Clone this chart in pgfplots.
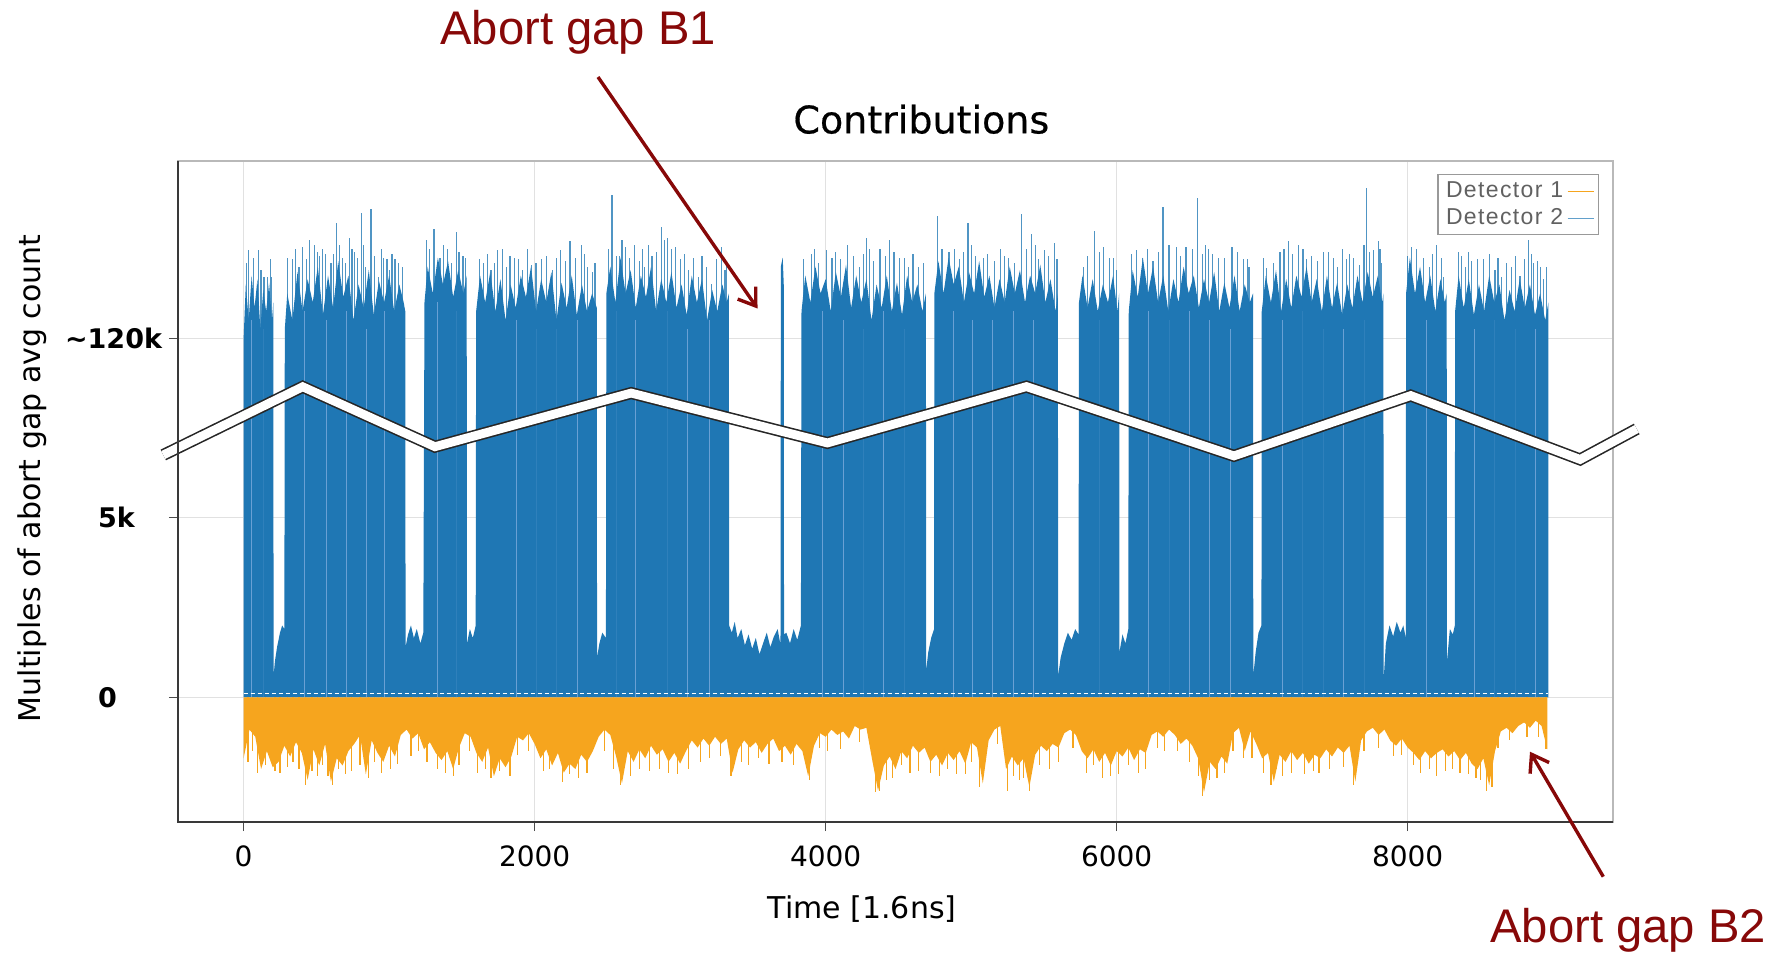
\documentclass[border=0pt]{standalone}
\usepackage{fontspec}
\setmainfont{DejaVu Sans}
\newfontfamily\titlefont[FakeBold=0.5]{DejaVu Sans}
\newfontfamily\arial{Liberation Sans}
\newfontfamily\legfont[LetterSpace=6]{Liberation Sans}
\usepackage{pgfplots}
\usepackage{pgfplotstable}
\pgfplotsset{compat=1.18}
\usetikzlibrary{arrows.meta}
\definecolor{bl}{RGB}{31,119,180}
\definecolor{lbl}{RGB}{105,160,212}
\definecolor{orr}{RGB}{246,165,30}
\definecolor{dred}{RGB}{135,8,8}
\definecolor{gridc}{RGB}{225,225,225}

% Detector 1 (orange), sampled every 40 time units from 0 to 8960
\pgfplotstableread[row sep=\\]{
y\\
-0.34\\-0.18\\-0.22\\-0.40\\-0.30\\-0.39\\-0.36\\-0.27\\-0.33\\-0.25\\
-0.31\\-0.46\\-0.29\\-0.38\\-0.26\\-0.47\\-0.34\\-0.38\\-0.30\\-0.26\\
-0.21\\-0.43\\-0.24\\-0.31\\-0.36\\-0.27\\-0.33\\-0.21\\-0.18\\-0.23\\
-0.20\\-0.29\\-0.25\\-0.31\\-0.35\\-0.30\\-0.40\\-0.28\\-0.20\\-0.22\\
-0.31\\-0.36\\-0.28\\-0.44\\-0.34\\-0.39\\-0.33\\-0.22\\-0.24\\-0.20\\
-0.26\\-0.34\\-0.29\\-0.38\\-0.31\\-0.42\\-0.37\\-0.40\\-0.32\\-0.36\\
-0.30\\-0.22\\-0.18\\-0.21\\-0.33\\-0.48\\-0.30\\-0.36\\-0.29\\-0.34\\
-0.27\\-0.32\\-0.29\\-0.36\\-0.31\\-0.37\\-0.30\\-0.24\\-0.28\\-0.23\\
-0.27\\-0.22\\-0.26\\-0.23\\-0.42\\-0.29\\-0.24\\-0.28\\-0.25\\-0.31\\
-0.26\\-0.23\\-0.30\\-0.27\\-0.32\\-0.26\\-0.30\\-0.44\\-0.27\\-0.20\\
-0.22\\-0.18\\-0.21\\-0.19\\-0.23\\-0.16\\-0.18\\-0.17\\-0.35\\-0.52\\
-0.38\\-0.33\\-0.40\\-0.30\\-0.34\\-0.27\\-0.31\\-0.28\\-0.36\\-0.32\\
-0.38\\-0.31\\-0.35\\-0.30\\-0.37\\-0.25\\-0.28\\-0.48\\-0.24\\-0.18\\
-0.16\\-0.40\\-0.33\\-0.38\\-0.34\\-0.50\\-0.32\\-0.27\\-0.30\\-0.26\\
-0.28\\-0.20\\-0.18\\-0.21\\-0.30\\-0.34\\-0.29\\-0.36\\-0.31\\-0.38\\
-0.30\\-0.33\\-0.28\\-0.35\\-0.29\\-0.31\\-0.21\\-0.19\\-0.22\\-0.18\\
-0.21\\-0.26\\-0.23\\-0.27\\-0.34\\-0.53\\-0.36\\-0.40\\-0.33\\-0.37\\
-0.20\\-0.17\\-0.30\\-0.19\\-0.26\\-0.34\\-0.31\\-0.47\\-0.32\\-0.36\\
-0.30\\-0.35\\-0.31\\-0.37\\-0.32\\-0.34\\-0.29\\-0.33\\-0.28\\-0.31\\
-0.27\\-0.47\\-0.24\\-0.19\\-0.17\\-0.21\\-0.18\\-0.24\\-0.27\\-0.23\\
-0.28\\-0.31\\-0.35\\-0.30\\-0.34\\-0.31\\-0.29\\-0.33\\-0.30\\-0.35\\
-0.31\\-0.37\\-0.40\\-0.34\\-0.49\\-0.30\\-0.19\\-0.17\\-0.20\\-0.16\\
-0.14\\-0.17\\-0.13\\-0.16\\-0.29\\
}\orangetab

\begin{document}
\begin{tikzpicture}
\useasboundingbox (-89pt,-66.5pt) rectangle (800.5pt,411pt);
\begin{axis}[
  at={(0,0)}, anchor=south west,
  scale only axis, width=717.5pt, height=330.5pt,
  xmin=-451, xmax=9411, ymin=-0.695, ymax=2.988,
  clip=false,
  axis line style={draw=gray!55, line width=0.7pt},
  xtick={0,2000,4000,6000,8000},
  xticklabels={0,2000,4000,6000,8000},
  ytick={0,1,2},
  yticklabels={{0},{5k},{\hspace*{-16.5pt}\textasciitilde120k}},
  grid=major,
  major grid style={draw=gridc, line width=0.6pt},
  tick pos=left, tick align=outside, major tick length=4.5pt,
  tick style={draw=gray!60!black, line width=0.6pt},
  xticklabel style={anchor=base, yshift=-17.8pt, font=\fontsize{14}{16}\selectfont},
  yticklabel style={anchor=west, xshift=-39pt, font=\bfseries\fontsize{13.5}{15}\selectfont},
  title={Contributions},
  title style={at={(axis description cs:0.518,1)}, anchor=base, yshift=7.8pt, font=\titlefont\fontsize{19}{21}\selectfont},
  xlabel={Time [1.6ns]},
  xlabel style={at={(axis description cs:0.4767,0)}, anchor=base, yshift=-48pt, font=\fontsize{15}{17}\selectfont},
  ylabel={Multiples of abort gap avg count},
  ylabel style={at={(axis description cs:-0.1017,0.52)}, anchor=center, font=\fontsize{15}{17}\selectfont},
  legend style={at={(0.9902,0.980)}, anchor=north east, draw=gray!80, line width=0.6pt,
    font=\legfont\fontsize{11.5}{13}\selectfont, text=black!62, fill=white,
    inner xsep=2pt, inner ysep=1.5pt, row sep=0pt},
  legend plot pos=right, legend cell align=left,
  legend image code/.code={\draw[#1] (0pt,0pt) -- (13pt,0pt);},
]
% Detector 2 (blue) envelope
\addplot[draw=none, fill=bl, forget plot] coordinates {
(0,2.0)(15,2.3)(35,2.1)(55,2.35)(75,2.17)(95,2.33)(115,2.05)(135,2.27)(155,2.15)(175,2.31)(195,2.1)(204,2.2)
(206,0.12)(215,0.20)(230,0.28)(250,0.36)(265,0.40)(280,0.38)
(283,2.05)(300,2.25)(335,2.1)(370,2.37)(405,2.15)(440,2.33)(475,2.2)(510,2.4)(545,2.13)(580,2.35)(615,2.17)(650,2.43)(685,2.23)(720,2.35)(755,2.1)(790,2.3)(825,2.17)(860,2.38)(895,2.13)(930,2.32)(965,2.2)(1000,2.35)(1035,2.15)(1070,2.3)(1100,2.2)(1111,2.15)
(1113,0.28)(1130,0.35)(1150,0.40)(1170,0.33)(1190,0.38)(1215,0.30)(1235,0.36)
(1243,2.2)(1265,2.4)(1300,2.25)(1335,2.45)(1370,2.3)(1405,2.43)(1440,2.23)(1475,2.38)(1510,2.25)(1533,2.35)
(1535,0.30)(1555,0.38)(1575,0.33)(1595,0.40)
(1598,2.15)(1625,2.35)(1660,2.2)(1695,2.37)(1730,2.15)(1765,2.33)(1800,2.1)(1835,2.3)(1870,2.17)(1905,2.35)(1940,2.23)(1975,2.4)(2010,2.15)(2045,2.33)(2080,2.2)(2115,2.37)(2150,2.1)(2185,2.31)(2220,2.17)(2255,2.35)(2290,2.13)(2325,2.3)(2360,2.15)(2395,2.25)(2427,2.17)
(2429,0.22)(2445,0.30)(2465,0.36)(2490,0.33)
(2493,2.25)(2520,2.4)(2555,2.2)(2590,2.45)(2625,2.25)(2660,2.38)(2695,2.17)(2730,2.35)(2765,2.23)(2800,2.4)(2835,2.15)(2870,2.33)(2905,2.2)(2940,2.37)(2975,2.17)(3010,2.3)(3045,2.13)(3080,2.35)(3115,2.2)(3150,2.33)(3185,2.1)(3220,2.27)(3255,2.15)(3290,2.3)(3320,2.2)(3335,2.25)
(3337,0.40)(3355,0.36)(3375,0.42)(3395,0.33)(3420,0.38)(3445,0.29)(3470,0.35)(3495,0.27)(3520,0.33)(3545,0.24)(3570,0.30)(3595,0.36)(3620,0.28)(3645,0.34)(3670,0.38)(3688,0.30)
(3690,0.35)(3692,2.4)(3705,2.45)(3712,2.3)(3714,0.35)
(3730,0.36)(3755,0.30)(3780,0.38)(3805,0.32)(3830,0.40)
(3834,2.15)(3860,2.35)(3895,2.2)(3930,2.4)(3965,2.25)(4000,2.33)(4035,2.15)(4070,2.37)(4105,2.23)(4140,2.41)(4175,2.17)(4210,2.35)(4245,2.2)(4280,2.33)(4315,2.1)(4350,2.3)(4385,2.17)(4420,2.35)(4455,2.15)(4490,2.31)(4525,2.13)(4560,2.35)(4595,2.2)(4630,2.3)(4665,2.15)(4689,2.25)
(4691,0.15)(4705,0.25)(4725,0.33)(4745,0.38)
(4747,2.25)(4775,2.43)(4810,2.25)(4845,2.45)(4880,2.3)(4915,2.4)(4950,2.2)(4985,2.37)(5020,2.25)(5055,2.43)(5090,2.23)(5125,2.35)(5160,2.17)(5195,2.33)(5230,2.2)(5265,2.4)(5300,2.25)(5335,2.38)(5370,2.2)(5405,2.35)(5440,2.25)(5475,2.41)(5510,2.2)(5545,2.33)(5580,2.15)(5596,2.25)
(5598,0.12)(5615,0.22)(5640,0.30)(5665,0.36)(5690,0.32)(5715,0.38)(5738,0.35)
(5741,2.2)(5765,2.35)(5800,2.17)(5835,2.33)(5870,2.15)(5905,2.3)(5940,2.2)(5975,2.35)(6005,2.15)(6017,2.25)
(6019,0.25)(6040,0.35)(6060,0.30)(6080,0.38)
(6083,2.15)(6110,2.38)(6145,2.23)(6180,2.45)(6215,2.25)(6250,2.4)(6285,2.2)(6320,2.35)(6355,2.15)(6390,2.33)(6425,2.2)(6460,2.4)(6495,2.25)(6530,2.35)(6565,2.17)(6600,2.33)(6635,2.2)(6670,2.37)(6705,2.15)(6740,2.31)(6775,2.17)(6810,2.35)(6845,2.15)(6880,2.3)(6915,2.2)(6937,2.25)
(6939,0.12)(6955,0.25)(6975,0.36)(6995,0.40)
(6997,2.15)(7025,2.35)(7060,2.2)(7095,2.38)(7130,2.15)(7165,2.33)(7200,2.17)(7235,2.35)(7270,2.23)(7305,2.4)(7340,2.2)(7375,2.33)(7410,2.15)(7445,2.35)(7480,2.17)(7515,2.31)(7550,2.13)(7585,2.3)(7620,2.17)(7655,2.35)(7690,2.2)(7725,2.37)(7760,2.23)(7795,2.35)(7825,2.2)(7833,2.25)
(7835,0.10)(7850,0.30)(7875,0.40)(7900,0.34)(7925,0.42)(7950,0.36)(7970,0.40)(7987,0.33)
(7989,2.25)(8015,2.45)(8050,2.25)(8085,2.4)(8120,2.2)(8155,2.35)(8190,2.15)(8225,2.33)(8255,2.2)(8268,2.25)
(8270,0.20)(8290,0.38)(8310,0.35)(8324,0.40)
(8326,2.15)(8350,2.35)(8385,2.17)(8420,2.33)(8455,2.13)(8490,2.3)(8525,2.15)(8560,2.35)(8595,2.2)(8630,2.3)(8665,2.1)(8700,2.27)(8735,2.15)(8770,2.33)(8805,2.17)(8840,2.3)(8875,2.13)(8910,2.25)(8945,2.1)(8967,2.2)
} \closedcycle;
% lighter sub-batch separations
\addplot[ycomb, draw=lbl, line width=0.5pt, forget plot] coordinates {
(56,2.1)(136,2.05)(421,2.15)(570,2.1)(708,2.15)(845,2.05)(971,2.15)(1330,2.2)(1460,2.15)
(1874,2.1)(2010,2.05)(2150,2.05)(2295,2.1)(2560,2.15)(2690,2.1)(2914,2.15)(3050,2.05)(3203,2.1)
(3980,2.15)(4120,2.1)(4260,2.05)(4400,2.15)(4540,2.05)(4880,2.15)(5010,2.1)(5150,2.1)(5290,2.15)(5430,2.1)
(5880,2.1)(6220,2.15)(6360,2.1)(6500,2.15)(6640,2.1)(6780,2.05)(7140,2.1)(7280,2.15)(7420,2.05)(7560,2.05)(7700,2.1)
(8130,2.1)(8460,2.05)(8600,2.1)(8740,2.05)(8880,2.05)
};
% Detector 2 spikes
\addplot[ycomb, draw=bl, draw opacity=0.78, line width=0.6pt, forget plot] coordinates {
(34,2.49)(100,2.49)(140,2.34)(165,2.34)(192,2.34)
(336,2.44)(380,2.40)(402,2.51)(488,2.52)(520,2.46)(560,2.47)(600,2.42)(638,2.64)(680,2.45)(730,2.56)(760,2.48)(809,2.70)(840,2.40)(875,2.72)(928,2.34)(960,2.45)(1000,2.38)(1040,2.44)(1067,2.42)
(1256,2.55)(1309,2.61)(1350,2.45)(1401,2.50)(1430,2.42)(1462,2.59)(1507,2.46)
(1651,2.42)(1700,2.38)(1744,2.49)(1809,2.40)(1860,2.45)(1914,2.38)(1980,2.41)(2045,2.44)(2124,2.38)(2177,2.49)(2243,2.54)(2280,2.45)(2322,2.52)(2362,2.40)(2400,2.37)
(2532,2.80)(2584,2.46)(2623,2.51)(2650,2.45)(2689,2.52)(2720,2.43)(2755,2.40)(2807,2.46)(2874,2.62)(2913,2.56)(2966,2.51)(3000,2.44)(3058,2.38)(3124,2.34)(3180,2.40)(3216,2.30)(3282,2.51)(3308,2.38)
(3900,2.47)(3950,2.42)(4005,2.49)(4044,2.45)(4100,2.44)(4189,2.46)(4230,2.40)(4281,2.56)(4330,2.43)(4373,2.50)(4439,2.55)(4505,2.45)(4570,2.40)(4636,2.40)
(4768,2.68)(4847,2.48)(4886,2.50)(4920,2.44)(4978,2.64)(5030,2.46)(5083,2.45)(5162,2.43)(5254,2.45)(5300,2.42)(5346,2.69)(5412,2.58)(5460,2.44)(5504,2.49)(5570,2.53)
(5770,2.40)(5846,2.60)(5912,2.51)(5977,2.45)(6000,2.38)
(6135,2.49)(6180,2.45)(6250,2.43)(6319,2.73)(6411,2.51)(6477,2.51)(6556,2.78)(6609,2.52)(6660,2.47)(6701,2.45)(6793,2.51)(6872,2.44)(6910,2.40)
(7031,2.39)(7080,2.42)(7123,2.48)(7180,2.54)(7249,2.52)(7306,2.44)(7380,2.43)(7455,2.48)(7520,2.40)(7581,2.44)(7627,2.45)(7670,2.41)(7719,2.84)(7764,2.49)(7799,2.54)(7822,2.42)
(8028,2.51)(8108,2.45)(8150,2.40)(8200,2.52)(8245,2.34)
(8349,2.48)(8400,2.40)(8440,2.43)(8520,2.44)(8600,2.38)(8646,2.34)(8715,2.40)(8772,2.35)(8830,2.55)(8864,2.42)(8910,2.40)(8933,2.33)
(20,2.42)(70,2.45)(120,2.38)(185,2.44)
(300,2.45)(355,2.5)(430,2.44)(455,2.55)(505,2.48)(540,2.5)(620,2.47)(660,2.52)(700,2.42)(745,2.5)(785,2.45)(825,2.52)(900,2.46)(945,2.5)(985,2.44)(1020,2.47)(1090,2.4)
(1280,2.5)(1375,2.52)(1480,2.48)(1525,2.45)
(1620,2.44)(1675,2.47)(1725,2.42)(1780,2.5)(1830,2.46)(1890,2.44)(1950,2.5)(2010,2.42)(2080,2.46)(2150,2.45)(2210,2.43)(2340,2.47)(2415,2.42)
(2510,2.5)(2560,2.46)(2600,2.55)(2740,2.5)(2780,2.52)(2840,2.48)(2890,2.55)(2940,2.5)(3030,2.47)(3090,2.45)(3150,2.46)(3250,2.44)(3320,2.43)
(3850,2.44)(3925,2.5)(4070,2.48)(4150,2.52)(4260,2.47)(4300,2.5)(4410,2.46)(4470,2.48)(4540,2.45)(4600,2.47)(4670,2.42)
(4800,2.5)(4950,2.48)(5000,2.52)(5110,2.47)(5200,2.5)(5230,2.46)(5380,2.5)(5440,2.52)(5530,2.46)(5590,2.44)
(5800,2.46)(5880,2.48)(5950,2.45)
(6100,2.47)(6210,2.5)(6290,2.48)(6360,2.52)(6440,2.46)(6520,2.5)(6590,2.47)(6630,2.5)(6740,2.45)(6830,2.48)(6900,2.44)
(7010,2.45)(7150,2.5)(7210,2.47)(7280,2.5)(7340,2.46)(7420,2.48)(7490,2.45)(7550,2.5)(7600,2.47)(7700,2.52)(7740,2.48)(7810,2.5)
(8000,2.46)(8060,2.5)(8170,2.47)(8230,2.45)
(8370,2.46)(8420,2.48)(8480,2.44)(8560,2.47)(8620,2.45)(8680,2.42)(8740,2.46)(8800,2.44)(8850,2.47)(8890,2.43)(8955,2.4)
};
\addplot[draw=white, line width=0.7pt, dash pattern=on 2pt off 1.5pt, forget plot] coordinates {(0,0.022) (8967,0.022)};
% Detector 1 (orange), drawn downward
\addplot[draw=none, fill=orr, forget plot] table[x expr=\coordindex*40, y=y] {\orangetab} \closedcycle;
\addplot[ycomb, draw=orr, line width=0.6pt, forget plot] coordinates {
(95,-0.42)(215,-0.41)(300,-0.39)(428,-0.49)(505,-0.44)(612,-0.49)(700,-0.43)(860,-0.45)(1010,-0.40)(1150,-0.33)
(1390,-0.42)(1610,-0.42)(1700,-0.45)(1830,-0.44)(2060,-0.41)(2190,-0.47)(2300,-0.45)(2590,-0.49)(2660,-0.44)(2790,-0.41)
(2980,-0.43)(3140,-0.36)(3350,-0.44)(3470,-0.38)(3610,-0.37)(3890,-0.46)(4010,-0.30)(4340,-0.53)(4370,-0.52)(4460,-0.45)
(4640,-0.41)(4780,-0.44)(4900,-0.43)(5060,-0.50)(5250,-0.52)(5330,-0.46)(5400,-0.52)(5540,-0.40)(5790,-0.42)(5900,-0.45)
(6010,-0.43)(6150,-0.42)(6330,-0.30)(6500,-0.36)(6590,-0.55)(6690,-0.45)(6870,-0.34)(7060,-0.49)(7140,-0.44)(7290,-0.43)
(7390,-0.42)(7630,-0.49)(7900,-0.33)(8090,-0.42)(8200,-0.44)(8310,-0.40)(8470,-0.45)(8543,-0.52)(8580,-0.50)(8950,-0.29)
(30,-0.36)(60,-0.30)(150,-0.38)(250,-0.42)(340,-0.36)(380,-0.40)(470,-0.41)(540,-0.38)(580,-0.44)(650,-0.40)
(740,-0.41)(800,-0.38)(900,-0.36)(950,-0.42)(1060,-0.37)(1200,-0.30)(1260,-0.36)(1330,-0.40)(1440,-0.44)(1480,-0.38)
(1550,-0.30)(1660,-0.40)(1760,-0.41)(1880,-0.32)(1960,-0.30)(2100,-0.40)(2240,-0.43)(2360,-0.42)(2480,-0.30)(2540,-0.40)
(2720,-0.40)(2860,-0.40)(2920,-0.42)(3060,-0.40)(3200,-0.34)(3280,-0.33)(3420,-0.36)(3540,-0.34)(3700,-0.36)(3780,-0.38)
(3960,-0.28)(4100,-0.29)(4230,-0.25)(4420,-0.46)(4520,-0.38)(4580,-0.42)(4720,-0.42)(4840,-0.40)(4960,-0.43)(5000,-0.36)
(5180,-0.26)(5290,-0.44)(5360,-0.45)(5470,-0.38)(5600,-0.36)(5700,-0.28)(5840,-0.38)(5960,-0.44)(6080,-0.38)(6200,-0.40)
(6280,-0.28)(6420,-0.30)(6560,-0.44)(6640,-0.46)(6740,-0.42)(6800,-0.30)(6930,-0.34)(7010,-0.42)(7100,-0.40)(7200,-0.42)
(7350,-0.41)(7460,-0.40)(7560,-0.39)(7700,-0.30)(7800,-0.28)(7960,-0.32)(8040,-0.38)(8150,-0.40)(8260,-0.41)(8360,-0.42)
(8420,-0.43)(8500,-0.46)(8620,-0.28)(8700,-0.24)(8820,-0.22)(8900,-0.22)
};
% broken-axis zigzag
\addplot[draw=black!85, line width=6pt, line join=miter, forget plot] coordinates {
(-552,1.350)(406,1.730)(1315,1.396)(2663,1.695)(4012,1.417)(5380,1.731)(6806,1.345)(8021,1.681)(9185,1.325)(9574,1.495)};
\addplot[draw=white, line width=4.4pt, line join=miter, forget plot] coordinates {
(-552,1.350)(406,1.730)(1315,1.396)(2663,1.695)(4012,1.417)(5380,1.731)(6806,1.345)(8021,1.681)(9185,1.325)(9574,1.495)};
\draw[gray!45!black, line width=0.75pt] (rel axis cs:0,1) -- (rel axis cs:0,0) -- (rel axis cs:1,0);
\addlegendimage{draw=orr, line width=0.6pt}
\addlegendentry{Detector 1}
\addlegendimage{draw=bl!70, line width=0.6pt}
\addlegendentry{Detector 2}
\end{axis}
\node[anchor=base west, text=dred, font=\arial\fontsize{23.6}{26}\selectfont, inner sep=0pt] at (131pt,388.5pt) {Abort gap B1};
\draw[dred, line width=1.7pt, -{Straight Barb[length=8pt,width=11pt]}] (210pt,372.5pt) -- (289.75pt,256.75pt);
\node[anchor=base west, text=dred, font=\arial\fontsize{23.6}{26}\selectfont, inner sep=0pt] at (656pt,-60.3pt) {Abort gap B2};
\draw[dred, line width=1.7pt, -{Straight Barb[length=8pt,width=11pt]}] (712.65pt,-27.35pt) -- (676pt,35.15pt);
\end{tikzpicture}
\end{document}
